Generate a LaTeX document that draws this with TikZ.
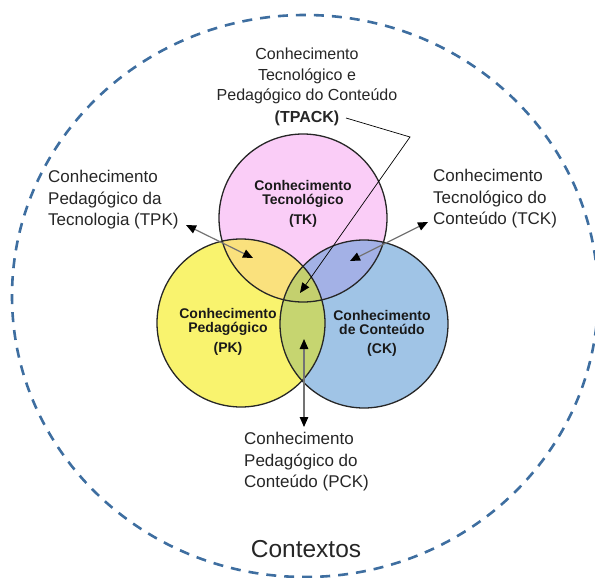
\documentclass[tikz,border=0pt]{standalone}
\usepackage{fontspec}
\setmainfont{Liberation Sans}
\usetikzlibrary{arrows.meta}
\definecolor{tkfill}{RGB}{250,205,247}
\definecolor{pkfill}{RGB}{249,243,110}
\definecolor{ckfill}{RGB}{160,196,230}
\definecolor{tpfill}{RGB}{250,225,125}
\definecolor{tcfill}{RGB}{163,177,230}
\definecolor{pcfill}{RGB}{198,213,112}
\definecolor{allfill}{RGB}{196,208,110}
\definecolor{dashblue}{RGB}{62,110,160}
\definecolor{txt}{RGB}{38,38,38}
\def\pathTK{(303,218) circle[radius=84pt]}
\def\pathPK{(241,323) circle[radius=84pt]}
\def\pathCK{(364,324) circle[radius=84pt]}
\begin{document}
\begin{tikzpicture}[x=1pt,y=-1pt,
  lbl/.style={inner sep=0pt, text=txt, font=\fontsize{16}{20.5}\selectfont},
  sidelbl/.style={inner sep=0pt, text=txt, align=left, anchor=north west, font=\fontsize{17}{21.5}\selectfont},
  inlbl/.style={inner sep=0pt, align=center, text=black!90, font=\bfseries\fontsize{14}{14.5}\selectfont},
  dbl/.style={draw=black!55, line width=1.2pt, {Triangle[length=10pt,width=8.5pt,black]}-{Triangle[length=10pt,width=8.5pt,black]}},
  single/.style={draw=black, line width=0.7pt, -{Triangle[length=10pt,width=8.5pt,black]}},
  ring/.style={draw=black!85, line width=1.3pt},
  outer/.style={draw=dashblue, line width=2.6pt, dash pattern=on 10pt off 8pt}]
\useasboundingbox (0,0) rectangle (595,578);
% outer context
\draw[outer] (305,296) ellipse[x radius=293pt, y radius=281pt];
% circles
\fill[tkfill] \pathTK;
\fill[pkfill] \pathPK;
\fill[ckfill] \pathCK;
\begin{scope}
  \clip \pathPK;
  \fill[pcfill] \pathCK;
\end{scope}
\begin{scope}
  \clip \pathTK;
  \fill[tpfill] \pathPK;
  \fill[tcfill] \pathCK;
  \clip \pathPK;
  \fill[allfill] \pathCK;
\end{scope}
\draw[ring] \pathTK;
\draw[ring] \pathPK;
\draw[ring] \pathCK;
% circle labels
\node[inlbl, anchor=north] (tk) at (303,180) {Conhecimento\\Tecnológico\\[5.5pt](TK)};
\node[inlbl, anchor=north] (pk) at (228,308) {Conhecimento\\Pedagógico\\[5.5pt](PK)};
\node[inlbl, anchor=north] (ck) at (382,310) {Conhecimento\\de Conteúdo\\[4.5pt](CK)};
% outer labels
\node[lbl, align=center, anchor=north] (tpack) at (307,48) {Conhecimento\\Tecnológico e\\Pedagógico do Conteúdo\\[1pt]\textbf{(TPACK)}};
\node[sidelbl] (tpk) at (48,170) {Conhecimento\\Pedagógico da\\Tecnologia (TPK)};
\node[sidelbl] (tck) at (433,169) {Conhecimento\\Tecnológico do\\Conteúdo (TCK)};
\node[sidelbl] (pck) at (244,432) {Conhecimento\\Pedagógico do\\Conteúdo (PCK)};
\node[inner sep=0pt, text=txt, font=\fontsize{24.5}{28}\selectfont, anchor=base] (ctx) at (306,557) {Contextos};
% connectors
\coordinate (tpkA) at (186,225);
\coordinate (tpkB) at (253,258);
\coordinate (tckA) at (350,261);
\coordinate (tckB) at (428,222);
\coordinate (pckA) at (304,339);
\coordinate (pckB) at (304,427);
\coordinate (tpackS) at (346,118);
\coordinate (tpackM) at (410,137);
\coordinate (tpackT) at (300,293);
\draw[dbl] (tpkA) -- (tpkB);
\draw[dbl] (tckA) -- (tckB);
\draw[dbl] (pckA) -- (pckB);
\draw[single] (tpackS) -- (tpackM) -- (tpackT);
\end{tikzpicture}
\end{document}
